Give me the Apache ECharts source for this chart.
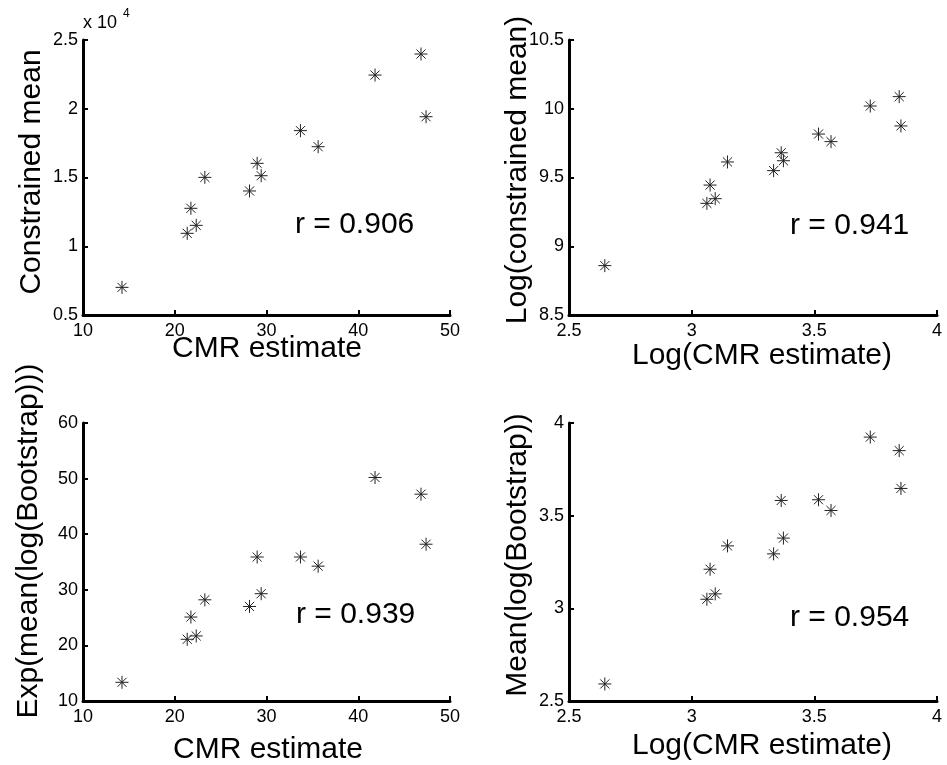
<!DOCTYPE html>
<html>
<head>
<meta charset="utf-8">
<script src="https://cdn.jsdelivr.net/npm/echarts@6/dist/echarts.min.js"></script>
<style>
html,body{margin:0;padding:0;background:#fff;}
#chart{width:947px;height:765px;}
</style>
</head>
<body>
<div id="chart"></div>
<script>
// ---- data ----
var cmrEstimate = [14.25, 21.36, 21.76, 22.34, 23.28, 28.15, 28.98, 29.42, 33.70, 35.63, 41.83, 46.84, 47.39];
var constrainedMean = [7010, 10940, 12760, 11520, 15010, 14020, 16030, 15130, 18410, 17240, 22450, 23980, 19420];
var logCmrEstimate = [2.646, 3.062, 3.075, 3.096, 3.146, 3.334, 3.365, 3.374, 3.517, 3.568, 3.728, 3.846, 3.853];
var logConstrainedMean = [8.859, 9.312, 9.445, 9.346, 9.613, 9.55, 9.68, 9.622, 9.816, 9.761, 10.02, 10.088, 9.875];
var expMeanLogBoot = [13.36, 21.1, 25.1, 21.7, 28.2, 27.0, 35.9, 29.3, 35.9, 34.25, 50.2, 47.2, 38.2];
var meanLogBoot = [2.592, 3.049, 3.211, 3.078, 3.337, 3.294, 3.582, 3.379, 3.586, 3.528, 3.924, 3.851, 3.647];
var rValues = ['r = 0.906', 'r = 0.941', 'r = 0.939', 'r = 0.954'];
var xTitles = ['CMR estimate', 'Log(CMR estimate)', 'CMR estimate', 'Log(CMR estimate)'];
var yTitles = ['Constrained mean', 'Log(constrained mean)', 'Exp(mean(log(Bootstrap)))', 'Mean(log(Bootstrap))'];

function zip(a, b) { return a.map(function (v, i) { return [v, b[i]]; }); }

var FONT = '"Liberation Sans", Arial, Helvetica, sans-serif';
var grids = [
  {left: 83, top: 40, width: 367, height: 275},
  {left: 569, top: 40, width: 368, height: 275},
  {left: 83, top: 423, width: 367, height: 278},
  {left: 569, top: 423, width: 368, height: 278}
];
var xRanges = [[10, 50, 10], [2.5, 4, 0.5], [10, 50, 10], [2.5, 4, 0.5]];
var yRanges = [[5000, 25000, 5000], [8.5, 10.5, 0.5], [10, 60, 10], [2.5, 4, 0.5]];
var seriesData = [
  zip(cmrEstimate, constrainedMean),
  zip(logCmrEstimate, logConstrainedMean),
  zip(cmrEstimate, expMeanLogBoot),
  zip(logCmrEstimate, meanLogBoot)
];

function axisCommon() {
  return {
    type: 'value',
    axisLine: {show: true, onZero: false, lineStyle: {color: '#000', width: 3}},
    axisTick: {show: true, inside: true, length: 5, lineStyle: {color: '#000', width: 2}},
    splitLine: {show: false},
    axisLabel: {color: '#000', fontSize: 18, fontFamily: FONT}
  };
}

var xAxes = [], yAxes = [], series = [];
for (var i = 0; i < 4; i++) {
  var xa = axisCommon();
  xa.gridIndex = i; xa.min = xRanges[i][0]; xa.max = xRanges[i][1]; xa.interval = xRanges[i][2];
  xa.axisLabel.margin = 7;
  xAxes.push(xa);
  var ya = axisCommon();
  ya.gridIndex = i; ya.min = yRanges[i][0]; ya.max = yRanges[i][1]; ya.interval = yRanges[i][2];
  ya.axisLabel.margin = 5;
  if (i === 0) ya.axisLabel.formatter = function (v) { return String(v / 10000); };
  yAxes.push(ya);
  series.push({
    type: 'scatter', xAxisIndex: i, yAxisIndex: i,
    data: seriesData[i],
    symbol: 'path://M0,6L12,6M6,0L6,12M1.8,1.8L10.2,10.2M10.2,1.8L1.8,10.2',
    symbolSize: [13, 13],
    itemStyle: {color: 'rgba(0,0,0,0)', borderColor: '#222', borderWidth: 1, opacity: 1},
    emphasis: {disabled: true},
    silent: true
  });
}

function txt(x, y, text, size, align, rot) {
  return {
    type: 'text', x: x, y: y, rotation: rot || 0, silent: true,
    style: {text: text, fill: '#000', font: size + 'px ' + FONT,
      fontSize: size, fontFamily: FONT,
      textAlign: align, align: align, textVerticalAlign: 'middle', verticalAlign: 'middle'}
  };
}

var graphics = [
  txt(267, 349, xTitles[0], 30, 'center'),
  txt(762, 356, xTitles[1], 30, 'center'),
  txt(268, 750, xTitles[2], 30, 'center'),
  txt(762, 746, xTitles[3], 30, 'center'),
  txt(32, 172, yTitles[0], 30, 'center', Math.PI / 2),
  txt(518, 170, yTitles[1], 30, 'center', Math.PI / 2),
  txt(29, 541, yTitles[2], 30, 'center', Math.PI / 2),
  txt(518, 555, yTitles[3], 30, 'center', Math.PI / 2),
  txt(295, 225, rValues[0], 30, 'left'),
  txt(790, 226, rValues[1], 30, 'left'),
  txt(296, 615, rValues[2], 30, 'left'),
  txt(790, 618, rValues[3], 30, 'left'),
  txt(83, 23, 'x 10', 18, 'left'),
  txt(123, 14, '4', 12, 'left')
];

var chart = echarts.init(document.getElementById('chart'), null, {renderer: 'canvas'});
chart.setOption({
  backgroundColor: '#fff',
  animation: false,
  grid: grids,
  xAxis: xAxes,
  yAxis: yAxes,
  series: series,
  graphic: graphics
});
</script>
</body>
</html>
